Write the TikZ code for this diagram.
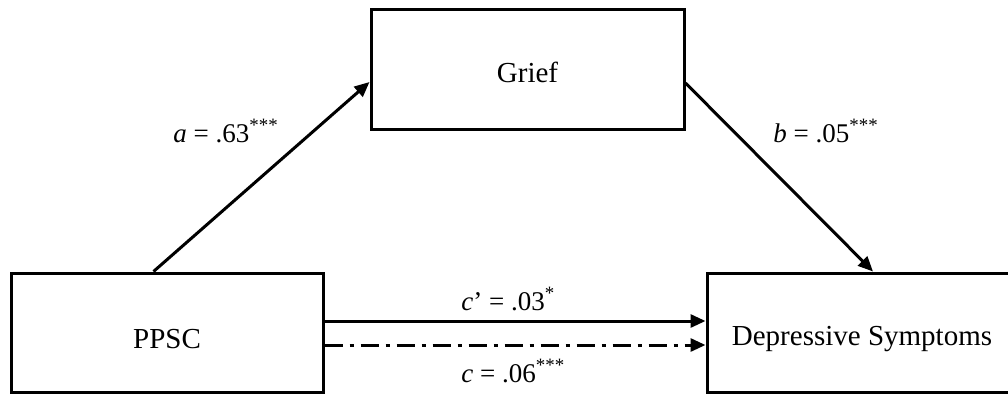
\documentclass[tikz,border=0pt]{standalone}
\usepackage{fontspec}
\setmainfont{Liberation Serif}
\usetikzlibrary{arrows.meta}
\begin{document}
\begin{tikzpicture}[x=0.5pt,y=-0.5pt,
  box/.style={draw=black, line width=1.5pt, inner sep=0pt, font=\fontsize{14.5}{17}\selectfont, text depth=0pt},
  arr/.style={line width=1.5pt, -{Triangle[length=7.5pt,width=6.5pt]}},
  dashdot/.style={dash pattern=on 9pt off 3.5pt on 2pt off 3.5pt},
  lab/.style={anchor=base west, inner sep=0pt, font=\fontsize{13.5}{16}\selectfont}]
\useasboundingbox (0,0) rectangle (1008,393);
\node[box, minimum width=156.5pt, minimum height=60pt, text height=13pt] (grief) at (527.5,69) {Grief};
\node[box, minimum width=156pt, minimum height=59.5pt, text height=15.5pt] (ppsc) at (167,332.5) {PPSC};
\node[box, minimum width=155pt, minimum height=59.5pt, text height=12.5pt] (dep) at (862,332.5) {Depressive Symptoms};
\draw[arr] ([xshift=72pt]ppsc.north west) -- ([yshift=-6.5pt]grief.west);
\draw[arr] ([yshift=-7pt]grief.east) -- ([xshift=5.5pt]dep.north);
\draw[arr] ([yshift=5.75pt]ppsc.east) -- ([yshift=5.75pt]dep.west);
\draw[arr, dashdot] ([yshift=-6.25pt]ppsc.east) -- ([yshift=-6.25pt]dep.west);
\node[lab] (la) at (173,142) {\textit{a} = .63\textsuperscript{***}};
\node[lab] (lb) at (773,142) {\textit{b} = .05\textsuperscript{***}};
\node[lab] (lcp) at (461,310) {\textit{c}’ = .03\textsuperscript{*}};
\node[lab] (lc) at (461,382) {\textit{c} = .06\textsuperscript{***}};
\end{tikzpicture}
\end{document}
